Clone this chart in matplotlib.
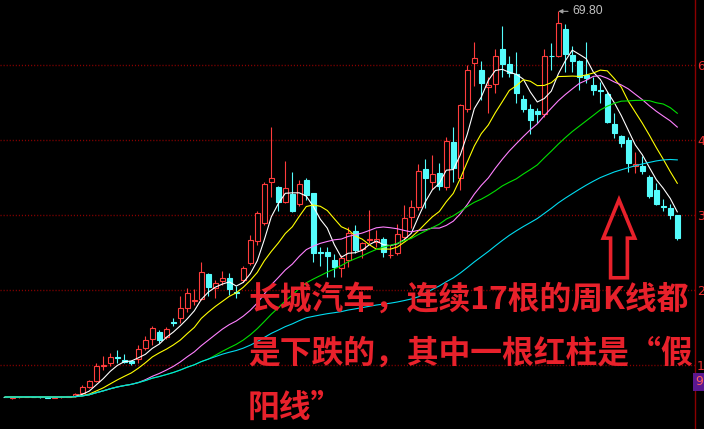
import matplotlib
matplotlib.use('Agg')
import matplotlib.pyplot as plt
from matplotlib.patches import Rectangle, Polygon
import pandas as pd

# 周K线数据 (开, 高, 低, 收)
opens = [6.60, 6.45, 6.52, 6.58, 6.62, 6.56, 6.50, 6.46, 6.52, 6.60,
         6.70, 7.16, 8.14, 9.23, 11.59, 12.08, 13.06, 12.62, 12.41, 12.73,
         14.54, 16.01, 17.16, 16.34, 18.80, 19.46, 21.10, 22.30, 22.62, 26.72,
         24.48, 25.58, 26.07, 23.77, 25.74, 28.48, 32.19, 35.04, 41.86, 40.94,
         38.48, 39.84, 38.15, 42.09, 39.96, 30.33, 30.28, 29.02, 27.71, 29.02,
         33.78, 30.77, 32.35, 32.02, 32.41, 29.79, 30.12, 32.74, 36.02, 37.76,
         43.94, 41.86, 43.29, 40.91, 48.37, 42.42, 53.78, 61.28, 60.18, 57.34,
         57.83, 63.62, 61.16, 59.52, 55.42, 53.78, 53.46, 52.91, 62.53, 62.48,
         66.85, 62.64, 61.66, 59.36, 57.72, 56.85, 56.24, 51.32, 49.41, 48.70,
         44.44, 44.49, 42.58, 40.50, 37.83, 37.50, 36.40]
highs = [6.72, 6.60, 6.62, 6.70, 6.75, 6.68, 6.62, 6.58, 6.66, 6.72,
         7.20, 8.52, 9.34, 12.08, 13.28, 13.72, 14.26, 13.60, 12.60, 15.08,
         16.56, 18.20, 17.54, 18.08, 19.46, 23.12, 24.38, 24.21, 28.64, 26.94,
         25.74, 27.22, 26.84, 24.81, 28.04, 33.12, 37.06, 41.86, 50.88, 41.16,
         45.26, 43.40, 42.14, 42.42, 40.01, 31.10, 31.20, 29.95, 29.84, 34.35,
         34.76, 32.02, 37.22, 33.94, 32.84, 31.48, 34.87, 38.04, 38.86, 44.71,
         45.63, 46.24, 44.93, 49.19, 50.88, 54.60, 61.00, 64.72, 61.66, 58.98,
         63.57, 67.40, 62.48, 63.18, 56.08, 54.55, 54.00, 63.57, 64.66, 69.80,
         67.80, 64.17, 61.82, 64.72, 59.08, 58.26, 56.62, 53.08, 49.52, 49.24,
         46.78, 46.08, 42.96, 41.70, 38.97, 38.20, 36.48]
lows = [6.48, 6.20, 6.40, 6.50, 6.52, 6.42, 6.38, 6.40, 6.45, 6.50,
        6.55, 7.04, 8.03, 9.09, 10.98, 11.69, 12.08, 12.08, 11.85, 12.18,
        14.26, 15.08, 15.36, 16.01, 18.20, 18.74, 20.54, 21.64, 22.46, 23.17,
        22.84, 24.92, 23.28, 22.84, 25.41, 28.20, 31.48, 34.76, 39.40, 37.11,
        38.32, 36.94, 37.93, 38.86, 28.74, 28.04, 26.28, 26.28, 26.28, 27.92,
        30.12, 29.30, 31.76, 31.20, 29.56, 29.30, 29.84, 32.30, 34.27, 37.22,
        37.50, 40.66, 40.45, 40.50, 41.86, 40.50, 53.29, 57.61, 55.26, 53.08,
        56.46, 59.08, 58.98, 54.82, 53.24, 49.63, 51.54, 52.52, 60.18, 62.23,
        59.90, 59.90, 56.90, 58.00, 56.08, 54.72, 51.44, 48.98, 47.60, 43.50,
        43.24, 43.12, 39.14, 38.04, 37.06, 35.69, 32.30]
closes = [6.55, 6.52, 6.58, 6.62, 6.56, 6.50, 6.46, 6.52, 6.60, 6.64,
          7.05, 8.14, 9.18, 11.69, 11.75, 13.06, 12.90, 12.34, 12.18, 14.37,
          15.90, 17.82, 15.90, 17.65, 18.69, 21.10, 23.56, 22.41, 27.00, 24.64,
          25.20, 26.07, 24.21, 23.61, 27.66, 32.30, 36.68, 41.43, 42.42, 38.48,
          40.78, 37.06, 41.43, 39.68, 30.12, 30.22, 29.73, 27.92, 29.35, 33.40,
          30.66, 31.76, 32.46, 32.41, 30.38, 29.89, 33.23, 35.86, 37.66, 43.57,
          42.39, 43.09, 41.21, 48.49, 44.06, 54.36, 60.18, 62.10, 58.00, 57.72,
          62.48, 61.16, 59.64, 56.36, 53.78, 51.98, 52.91, 62.48, 62.43, 67.84,
          62.75, 61.66, 59.08, 58.82, 56.90, 56.74, 51.70, 49.90, 48.26, 44.88,
          44.71, 43.67, 39.57, 38.20, 37.71, 36.40, 32.68]

ma_periods = [5, 10, 20, 30, 60]
grid_prices = [61.00, 48.70, 36.40, 24.10, 11.80]
# 截图右侧只露出刻度的首位数字
grid_labels = ['6', '4', '3', '2', '1']
peak_label = '69.80'
low_mark_price = 9.01
low_mark_label = '9'
caption = ['长城汽车，连续17根的周K线都',
           '是下跌的，其中一根红柱是“假',
           '阳线”']

up_color = '#ff3c3c'
down_color = '#54fcfc'
ma_colors = ['#ffffff', '#ffff00', '#ff80ff', '#00e000', '#00dcf0']
text_red = '#e8212b'

W, H = 704, 429
fig = plt.figure(figsize=(W / 100, H / 100), dpi=100, facecolor='black')
ax = fig.add_axes([0, 0, 695 / W, 1])
ax.set_facecolor('black')
ax.set_xlim(-0.757, 98.53)
ax.set_ylim(1.30, 71.66)

# 网格虚线
for p in grid_prices:
    ax.axhline(p, color='#8a0000', lw=1, dashes=(0.8, 1.4), zorder=1)

# K线
body_w = 0.7
for i, (o, h, l, c) in enumerate(zip(opens, highs, lows, closes)):
    rising = c >= o
    col = up_color if rising else down_color
    ax.plot([i, i], [l, h], color=col, lw=0.8, zorder=2, solid_capstyle='butt')
    ax.add_patch(Rectangle((i - body_w / 2, min(o, c)), body_w, max(abs(c - o), 0.05),
                           facecolor='black' if rising else col, edgecolor=col,
                           lw=0.8, zorder=3))

# 均线
s = pd.Series(closes)
for n, col in zip(ma_periods, ma_colors):
    ax.plot(range(len(closes)), s.rolling(n, min_periods=1).mean(), color=col, lw=0.8, zorder=4)

# 最高价标注
peak_i = highs.index(max(highs))
ax.annotate(peak_label, xy=(peak_i, highs[peak_i]), xytext=(10, 0), textcoords='offset points',
            ha='left', va='center', color='#c0c0c0', fontsize=8.8, family='Liberation Sans',
            arrowprops=dict(arrowstyle='-|>', color='#a0a0a0', lw=0.8, mutation_scale=6,
                            shrinkA=1, shrinkB=0))

# 右侧坐标
for sp in ['top', 'left', 'bottom']:
    ax.spines[sp].set_visible(False)
ax.spines['right'].set_color('#8c0000')
ax.spines['right'].set_linewidth(1)
ax.set_xticks([])
ax.yaxis.tick_right()
ax.set_yticks(grid_prices)
ax.set_yticklabels(grid_labels)
ax.tick_params(axis='y', length=0, pad=1.5, labelcolor='#e83030', labelsize=9)
ax.text(1.0, low_mark_price, low_mark_label, transform=ax.get_yaxis_transform(),
        ha='left', va='center', color='#ff6060', fontsize=9, clip_on=False,
        bbox=dict(boxstyle='square,pad=0.2', fc='#5a1890', ec='none'))

# 向上箭头
cx, tip, base, bottom = 87.67, 38.9, 32.6, 26.1
arrow = Polygon([(cx, tip), (cx + 2.25, base), (cx + 1.2, base), (cx + 1.2, bottom),
                 (cx - 1.2, bottom), (cx - 1.2, base), (cx - 2.25, base)],
                closed=True, facecolor='none', edgecolor=text_red, lw=2.6,
                joinstyle='miter', zorder=5)
ax.add_patch(arrow)

# 说明文字
for k, line in enumerate(caption):
    fig.text(248 / W, 1 - (300 + 53.8 * k) / H, line, fontsize=22.9, fontweight='bold',
             color=text_red, family=['Noto Sans CJK SC', 'DejaVu Sans'],
             ha='left', va='center', zorder=6)

fig.savefig('out.png', dpi=100, facecolor='black')
